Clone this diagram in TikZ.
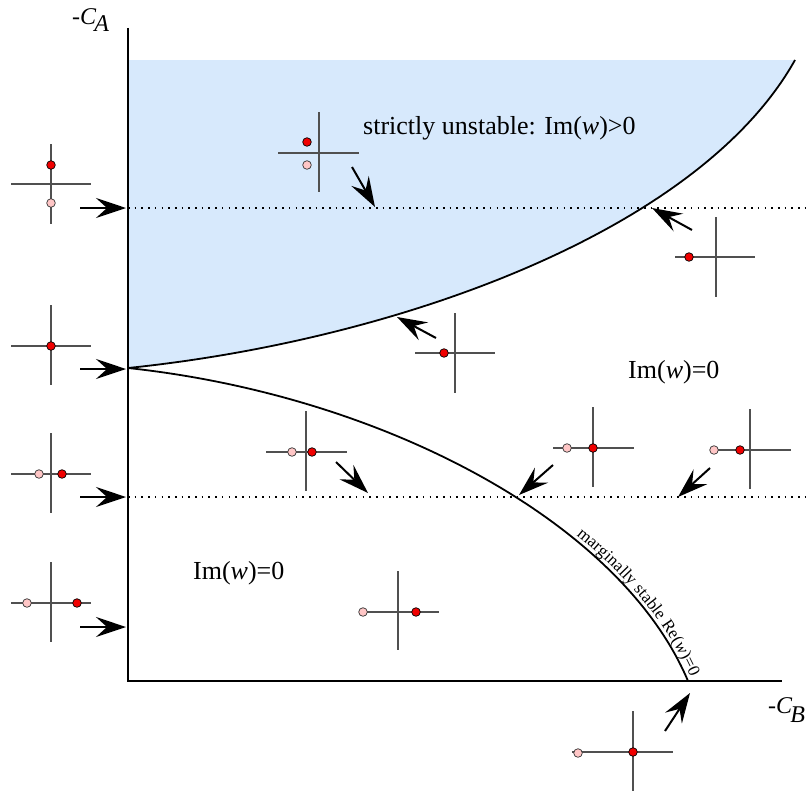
\documentclass[tikz,border=0pt]{standalone}
\usepackage{fontspec}
\setmainfont{Liberation Serif}
\usetikzlibrary{arrows.meta,decorations.text}
\definecolor{regionblue}{RGB}{215,233,252}
\definecolor{polepink}{RGB}{255,198,198}
\definecolor{polered}{RGB}{240,0,0}
\definecolor{crossgray}{RGB}{80,80,80}
\newcommand\margfont{\fontsize{17}{17}\selectfont}
\newcommand\bigfont{\fontsize{26}{29}\selectfont}
\newcommand\axfont{\fontsize{24}{27}\selectfont}
\begin{document}
\begin{tikzpicture}[x=1pt,y=-1pt,
  axisline/.style={line width=1.8pt},
  curveline/.style={line width=1.8pt},
  dotline/.style={line width=1.6pt, dash pattern=on 1.6pt off 5.1pt},
  bigarrow/.style={line width=2pt, -{Stealth[length=30pt,width=20pt,inset=11pt]}},
  crossline/.style={line width=1.3pt, draw=crossgray},
  redpole/.style={circle, draw=black, line width=0.7pt, fill=polered, minimum size=8.6pt, inner sep=0pt},
  pinkpole/.style={circle, draw=black!80, line width=0.7pt, fill=polepink, minimum size=8.6pt, inner sep=0pt},
  lab/.style={font=\bigfont, inner sep=0pt},
  axlab/.style={font=\axfont, inner sep=0pt}
]
\useasboundingbox (0,0) rectangle (810,792);

% key coordinates
\coordinate (origin) at (128,681);
\coordinate (ytop) at (128,28);
\coordinate (xend) at (782,681);
\coordinate (cusp) at (128,368);
\coordinate (uend) at (795,60);
\coordinate (lend) at (688,681);
\coordinate (d1s) at (128,208);
\coordinate (d1e) at (805,208);
\coordinate (d2s) at (128,497);
\coordinate (d2e) at (805,497);

% unstable region
\fill[regionblue] (128,60) -- (uend) .. controls (700,230) and (400,340) .. (cusp) -- cycle;

% dotted lines
\draw[dotline] (d1s) -- (d1e);
\draw[dotline] (d2s) -- (d2e);

% axes
\draw[axisline] (ytop) -- (origin) -- (xend);

% curves
\draw[curveline] (cusp) .. controls (400,340) and (700,230) .. (uend);
\draw[curveline] (cusp) .. controls (380,395) and (620,520) .. (lend);
\path[decorate, decoration={text along path, text align={right, right indent=3pt}, raise=4pt,
  text={|\margfont|marginally stable Re(|\margfont\itshape|w|\margfont|)=0}}]
  (cusp) .. controls (380,395) and (620,520) .. (lend);

% pole diagrams (crosses)
\draw[crossline] (11,184) -- (91,184) (51,144) -- (51,224);
\draw[crossline] (278,153) -- (359,153) (319,112) -- (319,192);
\draw[crossline] (675,257) -- (755,257) (716,217) -- (716,297);
\draw[crossline] (415,353) -- (495,353) (455,313) -- (455,393);
\draw[crossline] (11,346) -- (91,346) (51,305) -- (51,385);
\draw[crossline] (11,474) -- (91,474) (51,433) -- (51,513);
\draw[crossline] (11,603) -- (91,603) (51,562) -- (51,642);
\draw[crossline] (266,452) -- (347,452) (306,411) -- (306,491);
\draw[crossline] (553,448) -- (634,448) (593,407) -- (593,487);
\draw[crossline] (710,450) -- (791,450) (750,409) -- (750,489);
\draw[crossline] (360,612) -- (439,612) (398,571) -- (398,650);
\draw[crossline] (572,752) -- (673,752) (633,711) -- (633,791);

% poles
\node[redpole] (pa1) at (51,165) {};
\node[pinkpole] (pa2) at (51,203) {};
\node[redpole] (pb1) at (307,142) {};
\node[pinkpole] (pb2) at (307,165) {};
\node[redpole] (pc1) at (689,257) {};
\node[redpole] (pd1) at (444,353) {};
\node[redpole] (pe1) at (51,346) {};
\node[pinkpole] (pf2) at (39,474) {};
\node[redpole] (pf1) at (62,474) {};
\node[pinkpole] (pg2) at (27,603) {};
\node[redpole] (pg1) at (77,603) {};
\node[pinkpole] (ph2) at (292,452) {};
\node[redpole] (ph1) at (312,452) {};
\node[pinkpole] (pi2) at (567,448) {};
\node[redpole] (pi1) at (593,448) {};
\node[pinkpole] (pj2) at (714,450) {};
\node[redpole] (pj1) at (740,450) {};
\node[pinkpole] (pk2) at (363,612) {};
\node[redpole] (pk1) at (416,612) {};
\node[pinkpole] (pl2) at (578,753) {};
\node[redpole] (pl1) at (633,752) {};

% arrows
\coordinate (t1) at (80,208);   \coordinate (h1) at (126,208);
\coordinate (t2) at (80,369);   \coordinate (h2) at (126,369);
\coordinate (t3) at (80,497);   \coordinate (h3) at (126,497);
\coordinate (t4) at (80,627);   \coordinate (h4) at (126,627);
\coordinate (t5) at (352,167);  \coordinate (h5) at (375,207);
\coordinate (t6) at (692,230);  \coordinate (h6) at (652,208);
\coordinate (t7) at (436,338);  \coordinate (h7) at (397,317);
\coordinate (t8) at (336,462);  \coordinate (h8) at (368,493);
\coordinate (t9) at (553,465);  \coordinate (h9) at (519,495);
\coordinate (t10) at (710,468); \coordinate (h10) at (678,497);
\coordinate (t11) at (665,731); \coordinate (h11) at (690,693);
\foreach \i in {1,...,11} {\draw[bigarrow] (t\i) -- (h\i);}

% labels
\node[lab, anchor=base west] (unst) at (363,134) {strictly unstable: Im(\textit{w})>0};
\node[lab, anchor=base west] (stab1) at (193,579) {Im(\textit{w})=0};
\node[lab, anchor=base west] (stab2) at (628,378) {Im(\textit{w})=0};
\node[axlab, anchor=base west] (ca) at (72,25) {-\textit{C}\kern-2pt\raisebox{-7pt}{\textit{A}}};
\node[axlab, anchor=base west] (cb) at (768,713) {-\textit{C}\kern-2pt\raisebox{-9pt}{\textit{B}}};
\end{tikzpicture}
\end{document}
